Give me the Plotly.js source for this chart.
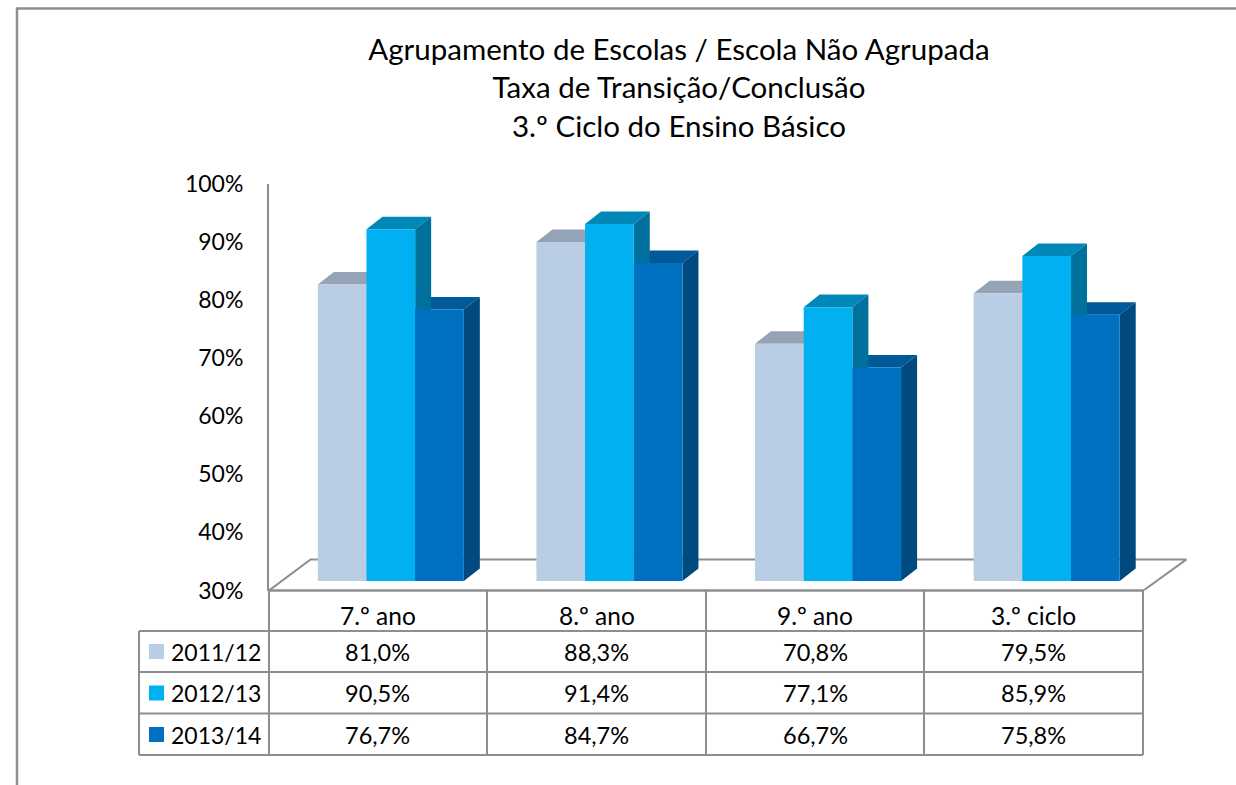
<!DOCTYPE html>
<html><head><meta charset="utf-8">
<script src="https://cdn.plot.ly/plotly-3.0.1.min.js"></script>
<style>html,body{margin:0;padding:0;background:#fff;overflow:hidden}</style>
</head><body><div id="chart" style="width:1236px;height:785px"></div>
<script>
const categories = ['7.º ano','8.º ano','9.º ano','3.º ciclo'];
const seriesNames = ['2011/12','2012/13','2013/14'];
const values2011 = [81.0,88.3,70.8,79.5];
const values2012 = [90.5,91.4,77.1,85.9];
const values2013 = [76.7,84.7,66.7,75.8];
const allValues = [values2011,values2012,values2013];
const frontColors = ['#B9CDE5','#00B0F0','#0070C0'];
const topColors = ['#95A3B6','#0088B9','#005A9A'];
const sideColors = ['#7F93AC','#00709D','#004A7F'];

const W=1236,H=785,FONT='Lato, Carlito, Calibri, sans-serif',GREY='#8E8E8E',INK='#000';
const px=x=>x/W, py=y=>1-y/H;
const catIdx=[0,1,2,3];
const GAP=0.332, BARW=(1-GAP)/3, DX=16/218.6, DY=12.5/5.8, BASE=30;

function faces(kind,s){
  const xs=[],ys=[];
  catIdx.forEach(i=>{
    const l=i+(s-1.5)*BARW, r=l+BARW, v=allValues[s][i];
    if(kind==='top'){xs.push(l,l+DX,r+DX,r,l,null);ys.push(v,v+DY,v+DY,v,v,null);}
    else{xs.push(r,r+DX,r+DX,r,r,null);ys.push(v,v+DY,BASE+DY,BASE,v,null);}
  });
  return {type:'scatter',mode:'lines',x:xs,y:ys,xaxis:'x2',yaxis:'y2',fill:'toself',
    fillcolor:(kind==='top'?topColors:sideColors)[s],line:{width:0},hoverinfo:'skip',showlegend:false};
}

const floorY=BASE+31/5.8;
const traces=[{type:'scatter',mode:'lines',x:[-0.5,-0.31,3.697,3.5],y:[BASE,floorY,floorY,BASE],
  line:{color:GREY,width:2},hoverinfo:'skip',showlegend:false}];
[2,1,0].forEach(s=>{traces.push(faces('top',s));traces.push(faces('side',s));});
allValues.forEach((vals,s)=>traces.push({type:'bar',name:seriesNames[s],x:catIdx,y:vals.map(v=>v-BASE),base:BASE,
  xaxis:'x3',yaxis:'y3',marker:{color:frontColors[s],line:{width:0}},showlegend:false}));

const colX=[269,487,706,924,1143], rowY=[590,631,672,713.5,755], tableL=139;
const line=(x0,y0,x1,y1,w)=>({type:'line',xref:'paper',yref:'paper',x0:px(x0),y0:py(y0),x1:px(x1),y1:py(y1),line:{color:GREY,width:w||2}});
const shapes=[line(17,8,17,785,2.5),line(16,8.5,1236,8.5,2.5),line(269,590.5,1143,590.5,2.5)];
colX.forEach(x=>shapes.push(line(x,590,x,755)));
rowY.slice(1).forEach(y=>shapes.push(line(tableL,y,1143,y)));
shapes.push(line(tableL,631,tableL,755));
frontColors.forEach((c,s)=>{const t=644+s*41.5;shapes.push({type:'rect',xref:'paper',yref:'paper',x0:px(149),x1:px(164),y0:py(t),y1:py(t+15),fillcolor:c,line:{width:0}});});

const ann=(text,x,y,xa,size)=>({text,xref:'paper',yref:'paper',x:px(x),y:py(y),xanchor:xa||'center',yanchor:'middle',showarrow:false,font:{family:FONT,size:size||23.5,color:INK}});
const annotations=[];
categories.forEach((c,i)=>annotations.push(ann(c,(colX[i]+colX[i+1])/2,615.5,'center',24.5)));
seriesNames.forEach((n,s)=>{
  const y=651.5+s*41.5;
  annotations.push(ann(n,168.5,y,'left',23));
  allValues[s].forEach((v,i)=>annotations.push(ann(v.toFixed(1).replace('.',',')+'%',(colX[i]+colX[i+1])/2,y)));
});

const titleLines=['Agrupamento de Escolas / Escola Não Agrupada','Taxa de Transição/Conclusão','3.º Ciclo do Ensino Básico'];
const layout={width:W,height:H,margin:{l:0,r:0,t:0,b:0},paper_bgcolor:'#fff',plot_bgcolor:'rgba(0,0,0,0)',showlegend:false,
  title:{text:titleLines.join('<br>'),x:px(679),xanchor:'center',y:py(60),yanchor:'top',font:{family:FONT,size:29.5,color:INK}},
  barmode:'group',bargap:GAP,bargroupgap:0,
  xaxis:{domain:[px(269),px(1190)],range:[-0.5,3.713],visible:false},
  yaxis:{domain:[py(590.5),py(183.5)],range:[30,100],dtick:10,tick0:30,ticksuffix:'%',showgrid:false,zeroline:false,showline:true,linecolor:GREY,linewidth:2,ticks:'',ticklabelstandoff:19,tickfont:{family:FONT,size:23,color:INK}},
  xaxis2:{domain:[px(281.5),px(1156)],range:[-0.5,3.5],visible:false,anchor:'y2'},
  yaxis2:{domain:[py(581),py(174)],range:[30,100],visible:false,anchor:'x2'},
  xaxis3:{range:[-0.5,3.5],visible:false,overlaying:'x2',anchor:'y3'},
  yaxis3:{range:[30,100],visible:false,overlaying:'y2',anchor:'x3'},
  shapes,annotations};
Plotly.newPlot('chart',traces,layout,{displayModeBar:false});
</script></body></html>
